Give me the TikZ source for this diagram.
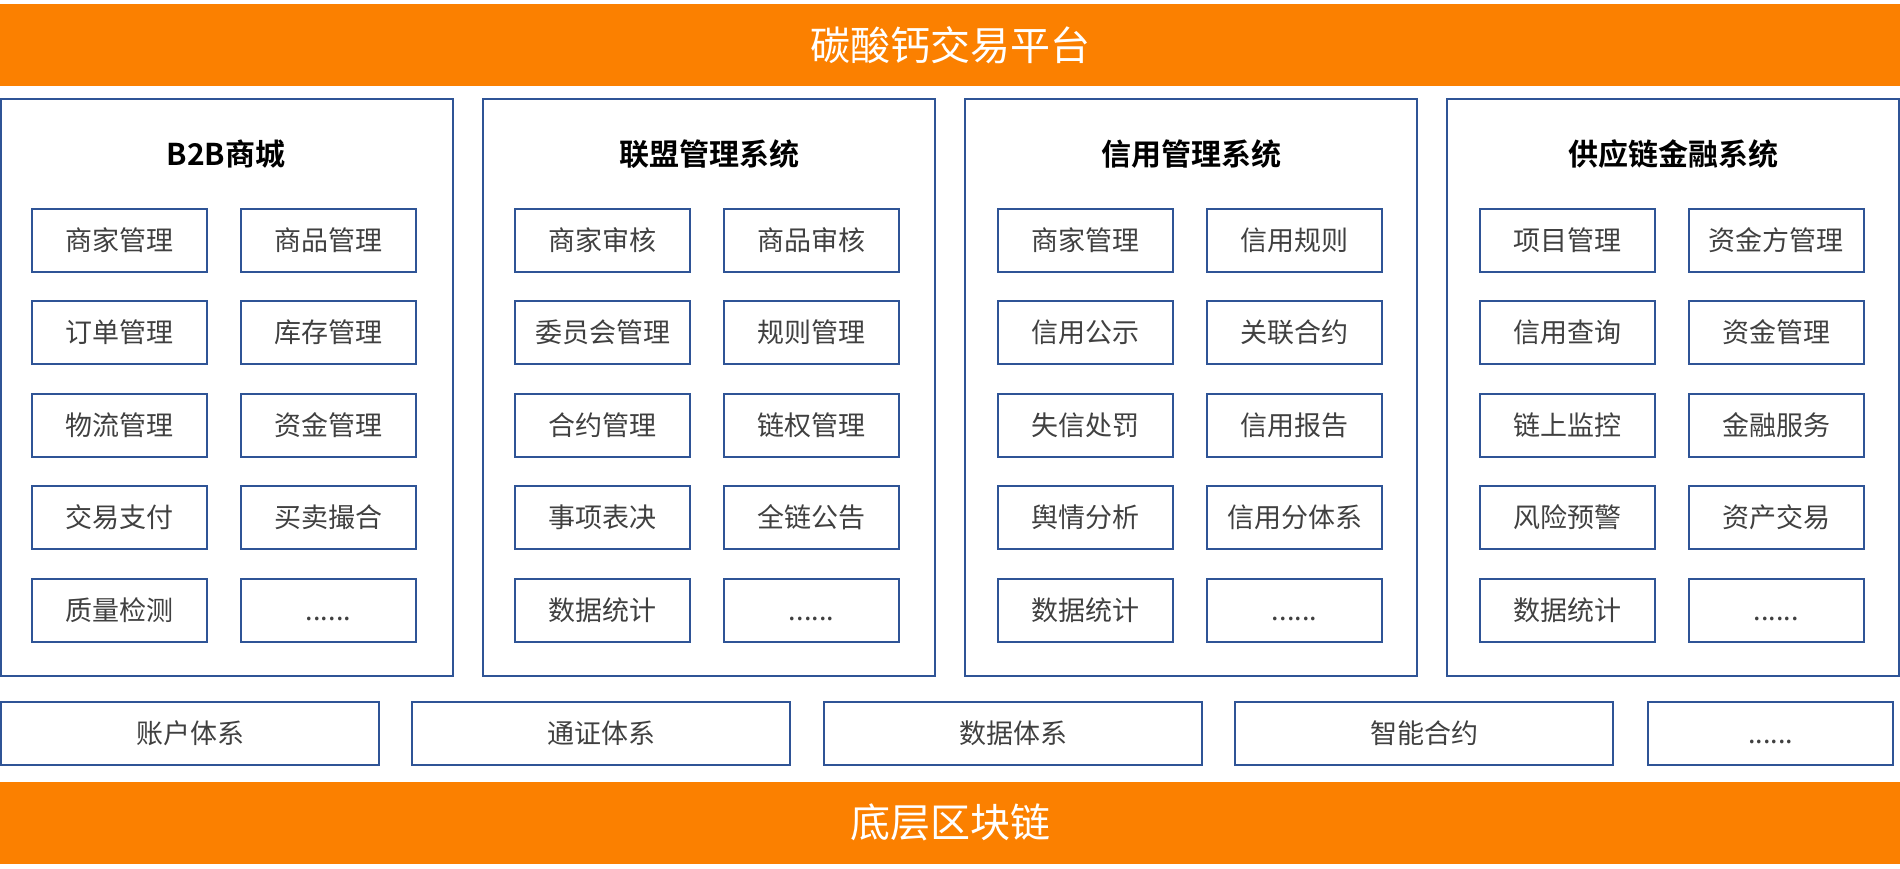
\documentclass[tikz,border=0pt]{standalone}
\usepackage{fontspec}
\newfontfamily\cjk{Noto Sans CJK SC}[BoldFont={Noto Sans CJK SC Bold}]
\definecolor{barorange}{RGB}{251,128,0}
\definecolor{frameblue}{RGB}{47,84,150}
\definecolor{textgray}{RGB}{64,64,64}
\newcommand{\more}{\vphantom{管}......}
\begin{document}
\begin{tikzpicture}[x=0.5pt,y=-0.5pt,
  bar/.style={fill=barorange,text=white,minimum width=950pt,minimum height=41pt,inner sep=0pt,font=\cjk\fontsize{20}{24}\selectfont},
  panel/.style={draw=frameblue,line width=1pt,minimum width=226pt,minimum height=288.5pt,inner sep=0pt},
  head/.style={font=\cjk\bfseries\fontsize{15}{18}\selectfont,text=black},
  item/.style={draw=frameblue,line width=1pt,minimum width=87.5pt,minimum height=31.5pt,inner sep=0pt,text=textgray,font=\cjk\fontsize{13.5}{16}\selectfont},
  base/.style={item,minimum width=189pt}]
\useasboundingbox (0,0) rectangle (1900,868);
\node[bar] (top) at (950,45) {碳酸钙交易平台};
\node[bar] (chain) at (950,822.5) {底层区块链};
% 四个系统
\node[panel] (mall) at (227,387.5) {};
\node[panel] (union) at (709,387.5) {};
\node[panel] (credit) at (1191,387.5) {};
\node[panel] (fin) at (1673,387.5) {};
\node[head] (mall-t) at (226,154) {B2B商城};
\node[head] (union-t) at (709,154) {联盟管理系统};
\node[head] (credit-t) at (1191,154) {信用管理系统};
\node[head] (fin-t) at (1673,154) {供应链金融系统};
% B2B商城
\node[item] (mall-1) at (119.5,240) {商家管理};
\node[item] (mall-2) at (328.5,240) {商品管理};
\node[item] (mall-3) at (119.5,332.5) {订单管理};
\node[item] (mall-4) at (328.5,332.5) {库存管理};
\node[item] (mall-5) at (119.5,425) {物流管理};
\node[item] (mall-6) at (328.5,425) {资金管理};
\node[item] (mall-7) at (119.5,517.5) {交易支付};
\node[item] (mall-8) at (328.5,517.5) {买卖撮合};
\node[item] (mall-9) at (119.5,610) {质量检测};
\node[item] (mall-10) at (328.5,610) {\more};
% 联盟管理系统
\node[item] (union-1) at (602.5,240) {商家审核};
\node[item] (union-2) at (811.5,240) {商品审核};
\node[item] (union-3) at (602.5,332.5) {委员会管理};
\node[item] (union-4) at (811.5,332.5) {规则管理};
\node[item] (union-5) at (602.5,425) {合约管理};
\node[item] (union-6) at (811.5,425) {链权管理};
\node[item] (union-7) at (602.5,517.5) {事项表决};
\node[item] (union-8) at (811.5,517.5) {全链公告};
\node[item] (union-9) at (602.5,610) {数据统计};
\node[item] (union-10) at (811.5,610) {\more};
% 信用管理系统
\node[item] (credit-1) at (1085.5,240) {商家管理};
\node[item] (credit-2) at (1294.5,240) {信用规则};
\node[item] (credit-3) at (1085.5,332.5) {信用公示};
\node[item] (credit-4) at (1294.5,332.5) {关联合约};
\node[item] (credit-5) at (1085.5,425) {失信处罚};
\node[item] (credit-6) at (1294.5,425) {信用报告};
\node[item] (credit-7) at (1085.5,517.5) {舆情分析};
\node[item] (credit-8) at (1294.5,517.5) {信用分体系};
\node[item] (credit-9) at (1085.5,610) {数据统计};
\node[item] (credit-10) at (1294.5,610) {\more};
% 供应链金融系统
\node[item] (fin-1) at (1567,240) {项目管理};
\node[item] (fin-2) at (1776,240) {资金方管理};
\node[item] (fin-3) at (1567,332.5) {信用查询};
\node[item] (fin-4) at (1776,332.5) {资金管理};
\node[item] (fin-5) at (1567,425) {链上监控};
\node[item] (fin-6) at (1776,425) {金融服务};
\node[item] (fin-7) at (1567,517.5) {风险预警};
\node[item] (fin-8) at (1776,517.5) {资产交易};
\node[item] (fin-9) at (1567,610) {数据统计};
\node[item] (fin-10) at (1776,610) {\more};
% 基础体系
\node[base] (acct) at (190,733.5) {账户体系};
\node[base] (token) at (601,733.5) {通证体系};
\node[base] (data) at (1013,733.5) {数据体系};
\node[base] (contract) at (1424,733.5) {智能合约};
\node[base,minimum width=122.5pt] (rest) at (1770.5,733.5) {\more};
\end{tikzpicture}
\end{document}
